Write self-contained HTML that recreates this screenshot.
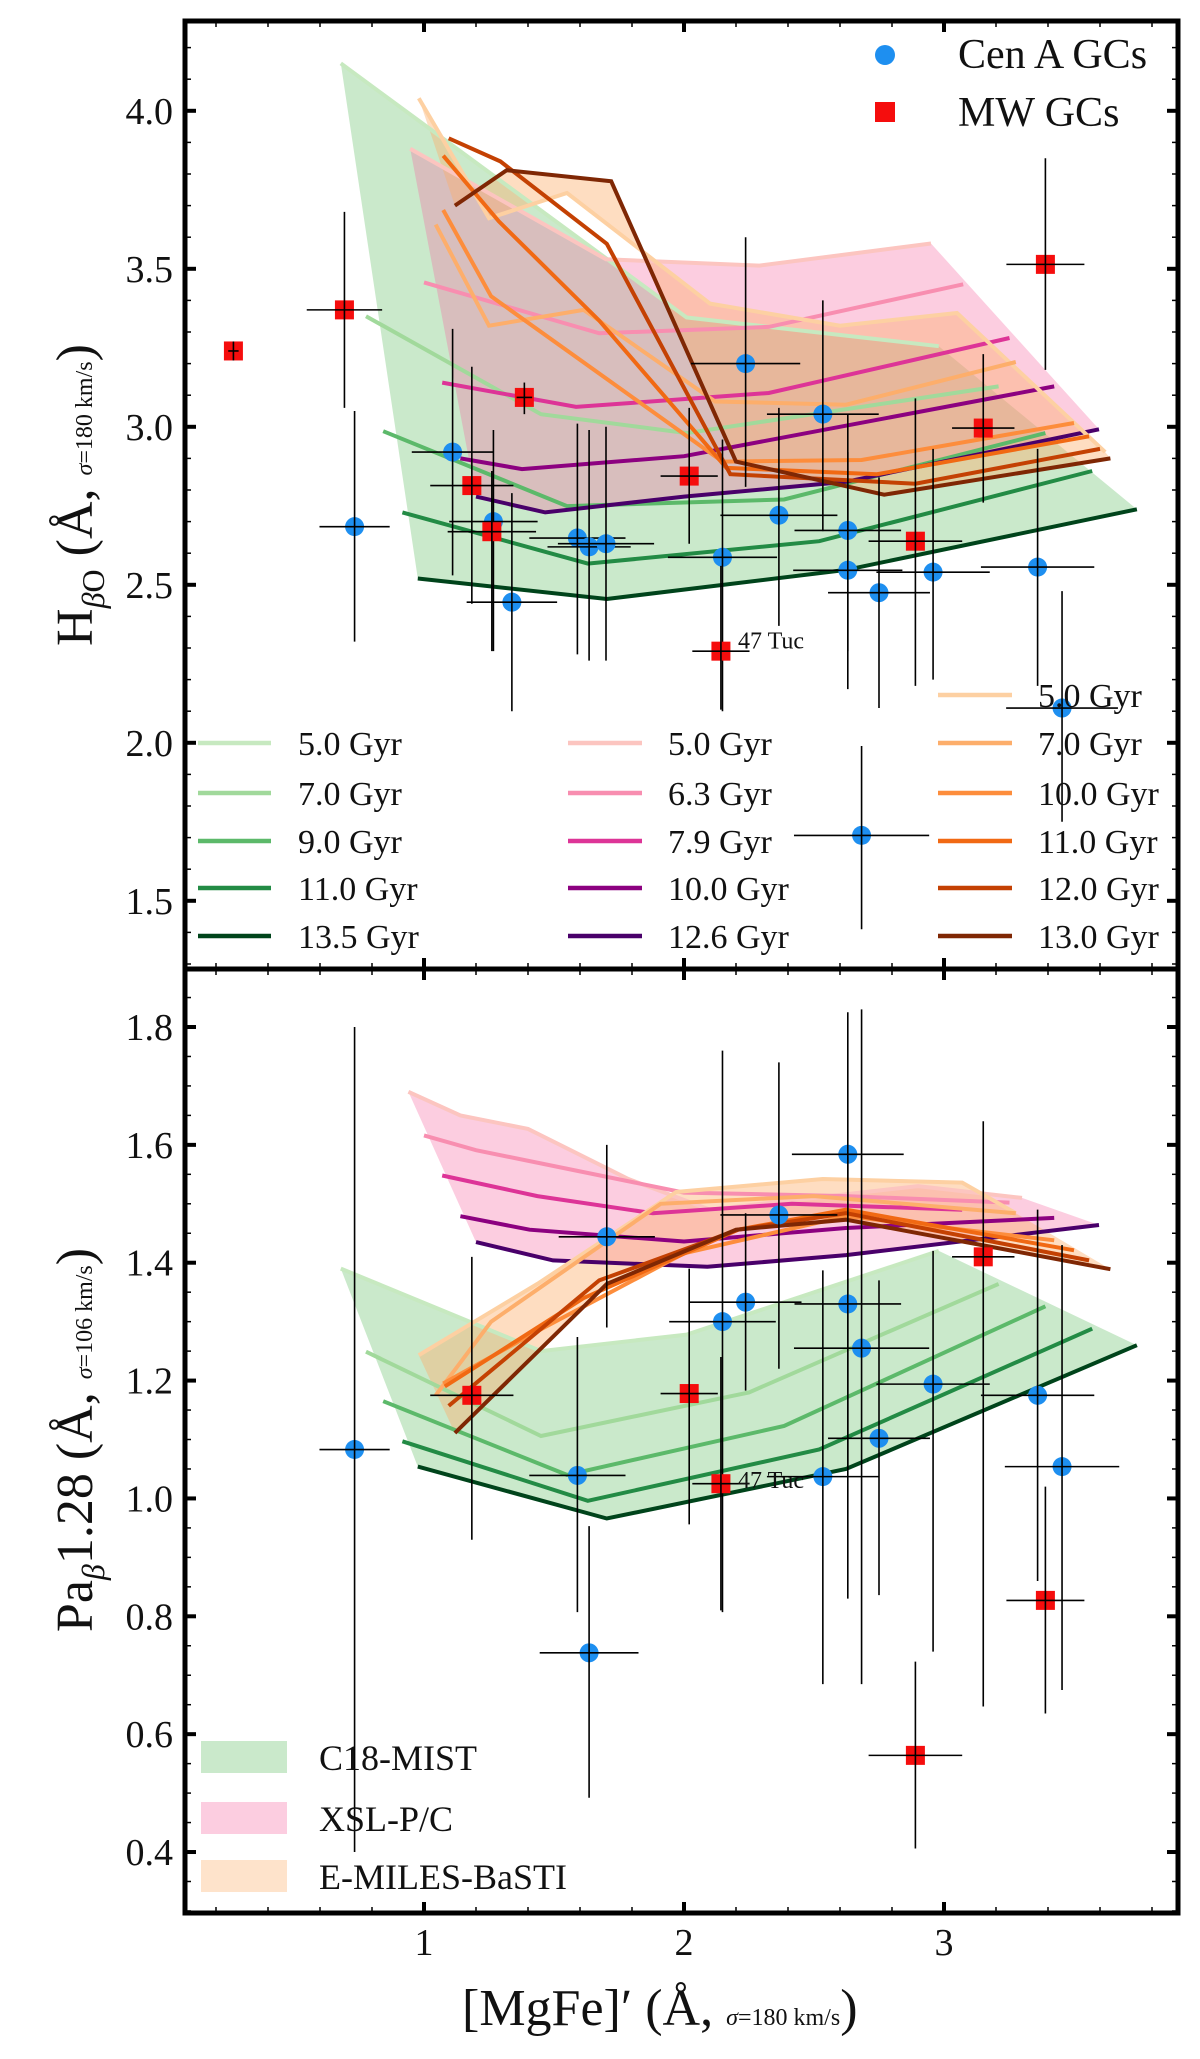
<!DOCTYPE html>
<html><head><meta charset="utf-8"><style>
html,body{margin:0;padding:0;background:#fff;}
svg{display:block;font-family:"Liberation Serif",serif;}
</style></head><body>
<svg id="chart" width="1200" height="2059" viewBox="0 0 1200 2059" xmlns="http://www.w3.org/2000/svg">
<g id="top"></g>
<g id="bot"></g>
</svg>
<script>
// ---- data ----
const cenTopX=[0.733,1.11,1.267,1.338,1.59,1.635,1.70,2.148,2.237,2.365,2.534,2.63,2.63,2.75,2.958,3.36,3.454,2.683];
const cenTopY=[2.684,2.92,2.70,2.445,2.648,2.62,2.63,2.587,3.20,2.72,3.04,2.672,2.546,2.475,2.54,2.556,2.11,1.707];
const cenTopXe=[0.135,0.157,0.17,0.174,0.185,0.16,0.185,0.21,0.21,0.225,0.215,0.205,0.21,0.196,0.218,0.218,0.215,0.26];
const cenTopYlo=[2.32,2.53,2.29,2.10,2.28,2.26,2.26,2.10,2.81,2.37,2.67,2.29,2.17,2.11,2.20,2.18,1.75,1.41];
const cenTopYhi=[3.05,3.31,2.99,2.79,3.01,2.99,3.00,2.96,3.60,3.06,3.40,3.04,2.92,2.84,2.93,2.93,2.48,1.99];
const mwTopX=[0.267,0.694,1.386,1.184,1.261,2.02,2.142,2.89,3.151,3.39];
const mwTopY=[3.24,3.37,3.093,2.814,2.668,2.844,2.29,2.638,2.996,3.514];
const mwTopXe=[0.02,0.145,0.03,0.16,0.17,0.11,0.11,0.18,0.12,0.15];
const mwTopYlo=[3.21,3.06,3.04,2.44,2.29,2.63,2.105,2.18,2.76,3.18];
const mwTopYhi=[3.27,3.68,3.14,3.19,2.86,3.06,2.56,3.09,3.23,3.85];

const cenBotX=[0.733,1.59,1.635,1.703,2.148,2.237,2.365,2.534,2.63,2.63,2.683,2.75,2.958,3.36,3.454];
const cenBotY=[1.083,1.039,0.738,1.444,1.30,1.333,1.481,1.037,1.584,1.33,1.255,1.102,1.194,1.175,1.054];
const cenBotXe=[0.135,0.185,0.19,0.185,0.205,0.215,0.225,0.215,0.215,0.205,0.26,0.196,0.218,0.218,0.22];
const cenBotYlo=[0.40,0.807,0.492,1.29,0.807,1.183,1.22,0.685,0.83,1.05,0.685,0.836,0.74,0.86,0.675];
const cenBotYhi=[1.80,1.274,0.953,1.60,1.76,1.484,1.74,1.387,1.825,1.58,1.83,1.37,1.42,1.49,1.43];
const mwBotX=[1.184,2.02,2.142,2.89,3.151,3.39];
const mwBotY=[1.175,1.178,1.025,0.564,1.41,0.827];
const mwBotXe=[0.16,0.11,0.11,0.18,0.12,0.15];
const mwBotYlo=[0.93,0.956,0.81,0.406,0.647,0.635];
const mwBotYhi=[1.41,1.39,1.24,0.723,1.64,1.02];

// C18-MIST (green)
const c18Ages=["5.0 Gyr","7.0 Gyr","9.0 Gyr","11.0 Gyr","13.5 Gyr"];
const c18Col=["#c7e9c0","#a1d99b","#5cb96a","#238b45","#00441b"];
const c18TopX=[[0.68,2.01,2.98],[0.777,1.45,2.01,3.21],[0.843,1.55,2.385,3.39],[0.917,1.63,2.52,3.57],[0.976,1.703,2.623,3.742]];
const c18TopY=[[4.15,3.346,3.255],[3.35,3.04,2.98,3.128],[2.986,2.749,2.77,2.98],[2.729,2.567,2.638,2.86],[2.52,2.455,2.547,2.739]];
const c18BotX=[[0.68,1.45,2.01,2.98],[0.777,1.45,2.25,3.21],[0.843,1.55,2.385,3.39],[0.917,1.63,2.52,3.57],[0.976,1.703,2.623,3.742]];
const c18BotY=[[1.39,1.25,1.278,1.42],[1.249,1.106,1.18,1.364],[1.165,1.04,1.123,1.326],[1.097,0.996,1.083,1.288],[1.054,0.966,1.05,1.26]];
// XSL (pink)
const xslAges=["5.0 Gyr","6.3 Gyr","7.9 Gyr","10.0 Gyr","12.6 Gyr"];
const xslCol=["#fcc5c0","#f88eb0","#dd3497","#8c0180","#49006a"];
const xslTopX=[[0.947,1.70,2.29,2.95],[1.0,1.674,2.326,3.074],[1.07,1.585,2.326,3.252],[1.14,1.377,2.0,3.424],[1.2,1.466,2.0,2.623,3.596]];
const xslTopY=[[3.88,3.53,3.51,3.58],[3.457,3.296,3.316,3.451],[3.14,3.063,3.107,3.281],[2.90,2.866,2.907,3.128],[2.779,2.729,2.779,2.826,2.992]];
const xslBotX=[[0.94,1.14,1.40,1.786,2.1,2.9,3.3],[1.0,1.2,1.555,2.0,2.623,3.252],[1.07,1.436,1.88,2.415,3.07],[1.14,1.406,2.0,2.623,3.424],[1.2,1.496,2.09,2.623,3.596]];
const xslBotY=[[1.69,1.65,1.627,1.542,1.49,1.53,1.51],[1.616,1.591,1.559,1.519,1.513,1.502],[1.548,1.513,1.484,1.50,1.49],[1.479,1.456,1.436,1.459,1.476],[1.435,1.404,1.393,1.413,1.464]];
// E-MILES (orange)
const emAges=["5.0 Gyr","7.0 Gyr","10.0 Gyr","11.0 Gyr","12.0 Gyr","13.0 Gyr"];
const emCol=["#fdd0a2","#fdae6b","#fd8d3c","#f16913","#c44103","#7f2704"];
const emTopX=[[0.98,1.25,1.55,2.1,2.6,3.05,3.62],[1.045,1.25,1.614,2.12,2.623,3.276],[1.074,1.258,2.148,2.683,3.5],[1.074,1.288,1.674,2.163,2.742,3.558],[1.095,1.294,1.703,2.178,2.89,3.6],[1.119,1.318,1.72,2.2,2.77,3.64]];
const emTopY=[[4.04,3.66,3.74,3.39,3.32,3.36,2.92],[3.64,3.32,3.37,3.08,3.07,3.205],[3.686,3.413,2.89,2.895,3.012],[3.858,3.65,3.336,2.87,2.85,2.97],[3.913,3.84,3.579,2.85,2.82,2.93],[3.70,3.812,3.777,2.89,2.785,2.90]];
const emBotX=[[0.98,1.436,1.97,2.534,3.07,3.276],[1.045,1.258,1.91,2.5,3.276],[1.074,1.436,2.0,2.623,3.424],[1.08,1.614,2.208,2.623,3.5],[1.095,1.674,2.208,2.623,3.558],[1.119,1.703,2.2,2.623,3.64]];
const emBotY=[[1.243,1.364,1.52,1.542,1.536,1.484],[1.175,1.30,1.50,1.513,1.484],[1.195,1.284,1.416,1.479,1.438],[1.19,1.34,1.456,1.49,1.421],[1.157,1.37,1.456,1.484,1.404],[1.111,1.364,1.456,1.473,1.389]];

const xTicks=[1,2,3];
const topTicks=[1.5,2.0,2.5,3.0,3.5,4.0];
const botTicks=[0.4,0.6,0.8,1.0,1.2,1.4,1.6,1.8];

// ---- axes ----
const L=185,R=1178;
const X=v=>164+260*v;
const YT=v=>110.8+(4.0-v)*316;
const YB=v=>1027+(1.8-v)*589.3;
const NS="http://www.w3.org/2000/svg";
function mk(tag,attrs,parent){const e=document.createElementNS(NS,tag);for(const k in attrs)e.setAttribute(k,attrs[k]);parent.appendChild(e);return e;}
function pts(xs,ys,Y){return xs.map((x,i)=>X(x).toFixed(1)+","+Y(ys[i]).toFixed(1));}

function panel(g,Y,top,bottom,d){
  const fills=[[d.c18X,d.c18Y,"rgba(116,196,118,0.38)","c18-band"],[d.xslX,d.xslY,"rgba(247,104,161,0.33)","xsl-band"],[d.emX,d.emY,"rgba(253,174,107,0.42)","emiles-band"]];
  fills.forEach(f=>{
    const n=f[0].length-1;
    const p=pts(f[0][0],f[1][0],Y).concat(pts(f[0][n],f[1][n],Y).reverse());
    const el=mk("polygon",{points:p.join(" "),fill:f[2]},g);
    
    
  });
  const sets=[[d.c18X,d.c18Y,c18Col,"c18"],[d.xslX,d.xslY,xslCol,"xsl"],[d.emX,d.emY,emCol,"emiles"]];
  sets.forEach(s=>{
    s[0].forEach((xs,i)=>{
      const el=mk("polyline",{points:pts(xs,s[1][i],Y).join(" "),fill:"none",stroke:s[2][i],"stroke-width":4,"stroke-linejoin":"miter"},g);
      
      
    });
  });
  function pointsSet(xs,ys,xe,ylo,yhi,kind){
    xs.forEach((x,i)=>{
      const gg=mk("g",{},g);
      
      
      const px=X(x),py=Y(ys[i]);
      if(kind==="cen-a-gc") mk("circle",{cx:px,cy:py,r:9.5,fill:"#1e8ff0"},gg);
      else mk("rect",{x:px-9.5,y:py-9.5,width:19,height:19,fill:"#f50d0d"},gg);
      mk("line",{x1:X(x-xe[i]),x2:X(x+xe[i]),y1:py,y2:py,stroke:"#000","stroke-width":1.6},gg);
      mk("line",{x1:px,x2:px,y1:Y(ylo[i]),y2:Y(yhi[i]),stroke:"#000","stroke-width":1.6},gg);
    });
  }
  pointsSet(d.cX,d.cY,d.cXe,d.cYlo,d.cYhi,"cen-a-gc");
  pointsSet(d.mX,d.mY,d.mXe,d.mYlo,d.mYhi,"mw-gc");
  const t=mk("text",{x:738,y:Y(d.tucY)+7,"font-size":24,fill:"#111"},g);t.textContent="47 Tuc";
  
  
  const ax=mk("g",{},g);
  
  
  for(let v=0.2;v<3.9;v+=0.2){const px=X(v);const maj=Math.abs(v-Math.round(v))<0.01;const len=maj?11:6;
    mk("line",{x1:px,x2:px,y1:top,y2:top+len,stroke:"#000","stroke-width":maj?4:1.5},ax);
    mk("line",{x1:px,x2:px,y1:bottom,y2:bottom-len,stroke:"#000","stroke-width":maj?4:1.5},ax);}
  const step=d.minor;
  for(let v=d.ymin;v<=d.ymax+1e-6;v+=step){const py=Y(v);if(py<top+2||py>bottom-2)continue;
    const maj=d.ticks.some(t=>Math.abs(t-v)<1e-6);const len=maj?11:6;
    mk("line",{x1:L,x2:L+len,y1:py,y2:py,stroke:"#000","stroke-width":maj?4:1.5},ax);
    mk("line",{x1:R,x2:R-len,y1:py,y2:py,stroke:"#000","stroke-width":maj?4:1.5},ax);}
  d.ticks.forEach(v=>{const tt=mk("text",{x:L-12,y:Y(v)+13,"text-anchor":"end","font-size":38,fill:"#111"},ax);tt.textContent=v.toFixed(1);});
  mk("rect",{x:L,y:top,width:R-L,height:bottom-top,fill:"none",stroke:"#000","stroke-width":5},ax);
}

panel(document.getElementById("top"),YT,21,969,{c18X:c18TopX,c18Y:c18TopY,xslX:xslTopX,xslY:xslTopY,emX:emTopX,emY:emTopY,
 cX:cenTopX,cY:cenTopY,cXe:cenTopXe,cYlo:cenTopYlo,cYhi:cenTopYhi,mX:mwTopX,mY:mwTopY,mXe:mwTopXe,mYlo:mwTopYlo,mYhi:mwTopYhi,
 tucY:2.32,ticks:topTicks,ymin:1.3,ymax:4.3,minor:0.1});
panel(document.getElementById("bot"),YB,969,1913,{c18X:c18BotX,c18Y:c18BotY,xslX:xslBotX,xslY:xslBotY,emX:emBotX,emY:emBotY,
 cX:cenBotX,cY:cenBotY,cXe:cenBotXe,cYlo:cenBotYlo,cYhi:cenBotYhi,mX:mwBotX,mY:mwBotY,mXe:mwBotXe,mYlo:mwBotYlo,mYhi:mwBotYhi,
 tucY:1.03,ticks:botTicks,ymin:0.3,ymax:1.9,minor:0.05});

const svg=document.getElementById("chart");
xTicks.forEach(v=>{const t=mk("text",{x:X(v),y:1955,"text-anchor":"middle","font-size":38,fill:"#111"},svg);t.textContent=v;
 
 });
</script>
<script>
const s=document.getElementById("chart");
function add(html){s.insertAdjacentHTML("beforeend",html);}
add('<g><circle cx="885" cy="55" r="10" fill="#1e8ff0"/><text x="958" y="68" font-size="42" fill="#111">Cen A GCs</text><rect x="875" y="102" width="20" height="20" fill="#f50d0d"/><text x="958" y="126" font-size="42" fill="#111">MW GCs</text></g>');
let lg='<g>';
const rows=[743,793,841,888,936];
c18Ages.forEach((a,i)=>{lg+=`<line x1="198" x2="271" y1="${rows[i]}" y2="${rows[i]}" stroke="${c18Col[i]}" stroke-width="4.5"/><text x="298" y="${rows[i]+12}" font-size="34" fill="#111">${a}</text>`;});
xslAges.forEach((a,i)=>{lg+=`<line x1="568" x2="642" y1="${rows[i]}" y2="${rows[i]}" stroke="${xslCol[i]}" stroke-width="4.5"/><text x="668" y="${rows[i]+12}" font-size="34" fill="#111">${a}</text>`;});
const rows3=[695].concat(rows);
emAges.forEach((a,i)=>{lg+=`<line x1="938" x2="1012" y1="${rows3[i]}" y2="${rows3[i]}" stroke="${emCol[i]}" stroke-width="4.5"/><text x="1038" y="${rows3[i]+12}" font-size="34" fill="#111">${a}</text>`;});
lg+='</g>';add(lg);
add('<g><rect x="201" y="1741" width="86" height="32" fill="rgba(116,196,118,0.38)"/><text x="319" y="1770" font-size="36" fill="#111">C18-MIST</text><rect x="201" y="1802" width="86" height="32" fill="rgba(247,104,161,0.33)"/><text x="319" y="1831" font-size="36" fill="#111">XSL-P/C</text><rect x="201" y="1860" width="86" height="32" fill="rgba(253,174,107,0.35)"/><text x="319" y="1889" font-size="36" fill="#111">E-MILES-BaSTI</text></g>');
add('<text x="462" y="2025" font-size="52" fill="#111">[MgFe]′ (Å, <tspan font-size="24" font-style="italic">σ</tspan><tspan font-size="24">=180 km/s</tspan>)</text>');
add('<text transform="translate(92,495) rotate(-90)" text-anchor="middle" font-size="52" fill="#111">H<tspan font-size="32" dy="12" font-style="italic">β</tspan><tspan font-size="32">O</tspan><tspan dy="-12"> (Å, </tspan><tspan font-size="24" font-style="italic">σ</tspan><tspan font-size="24">=180 km/s</tspan>)</text>');
add('<text transform="translate(92,1440) rotate(-90)" text-anchor="middle" font-size="52" fill="#111">Pa<tspan font-size="32" dy="12" font-style="italic">β</tspan><tspan dy="-12">1.28 (Å, </tspan><tspan font-size="24" font-style="italic">σ</tspan><tspan font-size="24">=106 km/s</tspan>)</text>');
</script>
</body></html>
